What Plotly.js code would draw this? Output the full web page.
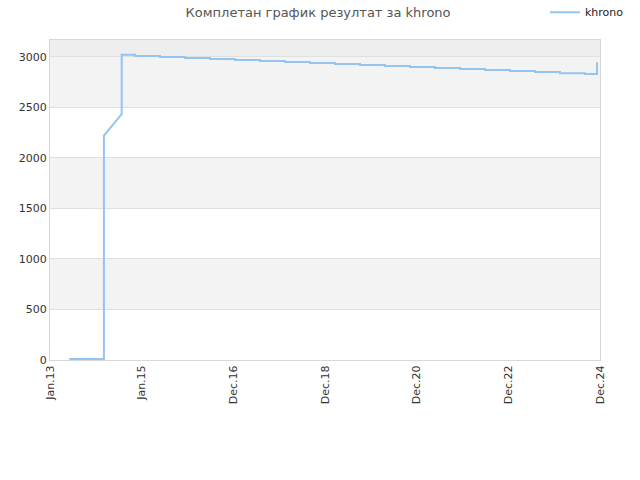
<!DOCTYPE html>
<html>
<head>
<meta charset="utf-8">
<script src="https://cdn.plot.ly/plotly-3.0.1.min.js"></script>
<style>html,body{margin:0;padding:0;background:#fff;}#chart{width:640px;height:480px;}</style>
</head>
<body>
<div id="chart"></div>
<script>
// Data
const seriesName = 'khrono';
const dates = [
  '2013-06-03','2014-03-05','2014-03-05','2014-07-24','2014-07-24','2014-11-07',
  '2014-11-07','2015-05-24','2015-05-24','2015-12-09','2015-12-09','2016-06-24',
  '2016-06-24','2017-01-09','2017-01-09','2017-07-26','2017-07-26','2018-02-10',
  '2018-02-10','2018-08-27','2018-08-27','2019-03-13','2019-03-13','2019-09-28',
  '2019-09-28','2020-04-13','2020-04-13','2020-10-29','2020-10-29','2021-05-15',
  '2021-05-15','2021-11-30','2021-11-30','2022-06-16','2022-06-16','2023-01-01',
  '2023-01-01','2023-07-18','2023-07-18','2024-02-02','2024-02-02','2024-08-18',
  '2024-08-18','2024-11-21','2024-11-21'
];
const values = [
  10,10,2221,2433,3023,3023,
  3010,3010,3000,3000,2990,2990,
  2980,2980,2970,2970,2960,2960,
  2950,2950,2940,2940,2930,2930,
  2920,2920,2910,2910,2900,2900,
  2890,2890,2880,2880,2870,2870,
  2860,2860,2850,2850,2840,2840,
  2832,2832,2947
];
const tickLabels = ['Jan.13','Jan.15','Dec.16','Dec.18','Dec.20','Dec.22','Dec.24'];
const xStart = '2013-01-01';
const xEnd = '2024-12-15';
const yMax = 3168;

const t0 = new Date(xStart + 'T00:00:00Z').getTime();
const t1 = new Date(xEnd + 'T00:00:00Z').getTime();
const tickVals = tickLabels.map((_, i) => new Date(t0 + (t1 - t0) * i / (tickLabels.length - 1)).toISOString().slice(0, 10));

const bands = [
  [500, 1000, '#f3f3f3'], [1500, 2000, '#f3f3f3'], [2500, 3000, '#f3f3f3'], [3000, yMax, '#eeeeee']
];
const shapes = bands.map(b => ({
  type: 'rect', xref: 'paper', yref: 'y', x0: 0, x1: 1, y0: b[0], y1: b[1],
  fillcolor: b[2], line: {width: 0}, layer: 'below'
}));

const trace = {
  x: dates, y: values, type: 'scatter', mode: 'lines', name: seriesName,
  line: {color: '#94c4f2', width: 2}
};

const layout = {
  width: 640, height: 480,
  margin: {l: 50, r: 40, t: 40, b: 120, autoexpand: false},
  paper_bgcolor: '#ffffff', plot_bgcolor: '#ffffff',
  font: {family: 'DejaVu Sans, sans-serif', size: 11, color: '#333'},
  title: {text: 'Комплетан график резултат за khrono', x: 0.497, xanchor: 'center', y: 0.975, yanchor: 'middle',
    font: {family: 'DejaVu Sans, sans-serif', size: 13, color: '#555'}},
  showlegend: true,
  legend: {x: 0.9, xanchor: 'left', y: 1.087, yanchor: 'middle', orientation: 'h',
    font: {size: 11, color: '#222'}, bgcolor: 'rgba(0,0,0,0)'},
  xaxis: {
    type: 'date', range: [xStart, xEnd], tickvals: tickVals, ticktext: tickLabels,
    tickangle: -90, showgrid: false, zeroline: false, showline: true, linecolor: '#d8d8d8',
    mirror: true, ticks: '', tickfont: {size: 11, color: '#333'}
  },
  yaxis: {
    range: [0, yMax], tickvals: [0, 500, 1000, 1500, 2000, 2500, 3000],
    showgrid: true, gridcolor: '#e0e0e0', zeroline: false, showline: true, linecolor: '#d8d8d8',
    mirror: true, ticks: '', tickfont: {size: 11, color: '#333'}
  },
  shapes: shapes
};

Plotly.newPlot('chart', [trace], layout, {displayModeBar: false, staticPlot: true});
</script>
</body>
</html>
